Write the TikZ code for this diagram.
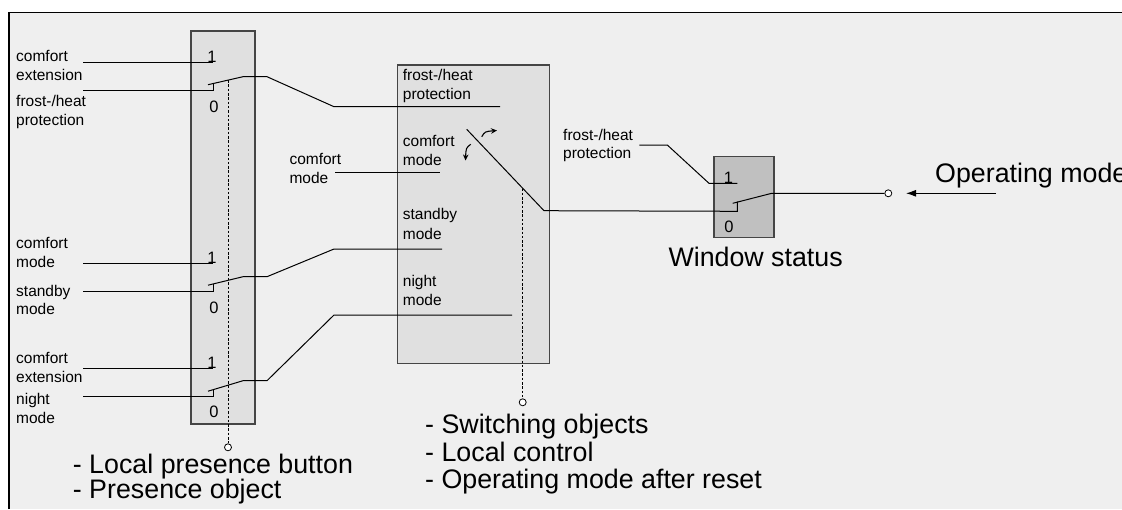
\documentclass[tikz,border=0pt]{standalone}
\usepackage{fontspec}
\setmainfont{Liberation Sans}
\usetikzlibrary{arrows.meta}
\definecolor{bg}{HTML}{EFEFEF}
\definecolor{boxfill}{HTML}{E0E0E0}
\definecolor{darkfill}{HTML}{C0C0C0}
\definecolor{edge}{HTML}{454545}
\begin{document}
\begin{tikzpicture}[x=1pt,y=-1pt,
  sm/.style={inner sep=0,anchor=base west,font=\fontsize{15.5}{18.6}\selectfont},
  big/.style={inner sep=0,anchor=base west,font=\fontsize{26.8}{30}\selectfont},
  dig/.style={inner sep=0,anchor=base,font=\fontsize{16.5}{19}\selectfont},
  wire/.style={line width=1pt,line join=miter},
  panel/.style={draw=edge,line width=1.2pt,fill=boxfill,inner sep=0,outer sep=0},
  term/.style={circle,draw,fill=white,inner sep=0,minimum size=7pt,line width=0.8pt},
  ctrl/.style={line width=0.9pt,dash pattern=on 2.5pt off 1.8pt}]
\useasboundingbox (0,0) rectangle (1122,509);
\fill[white] (0,0) rectangle (1122,509);
\fill[bg] (9,12.7) rectangle (1122,509);
\draw[line width=1.3pt] (9,509) -- (9,12.7) -- (1122,12.7);

% panels
\node[panel,minimum width=64pt,minimum height=393pt] (pbox) at (223,227.5) {};
\node[panel,minimum width=152pt,minimum height=298.3pt] (mbox) at (473.3,214.2) {};
\node[panel,fill=darkfill,minimum width=60pt,minimum height=80.6pt] (wbox) at (744,197) {};

% left labels
\node[sm] (l1a) at (16,61.5) {comfort};
\node[sm] (l1b) at (16,80.5) {extension};
\node[sm] (l2a) at (16,106.5) {frost-/heat};
\node[sm] (l2b) at (16,125) {protection};
\node[sm] (l3a) at (16,248.5) {comfort};
\node[sm] (l3b) at (16,267.5) {mode};
\node[sm] (l4a) at (16,296) {standby};
\node[sm] (l4b) at (16,314.5) {mode};
\node[sm] (l5a) at (16,363.5) {comfort};
\node[sm] (l5b) at (16,382.5) {extension};
\node[sm] (l6a) at (16,404.5) {night};
\node[sm] (l6b) at (16,423.5) {mode};

% digits in left panel
\node[dig] (d1a) at (212,62.3) {1};
\node[dig] (d0a) at (214,112) {0};
\node[dig] (d1b) at (212,263.3) {1};
\node[dig] (d0b) at (214,313) {0};
\node[dig] (d1c) at (212,368.3) {1};
\node[dig] (d0c) at (214,417.5) {0};

% middle panel labels
\node[sm] (m1a) at (402.7,80.5) {frost-/heat};
\node[sm] (m1b) at (402.7,99) {protection};
\node[sm] (m2a) at (402.7,146.7) {comfort};
\node[sm] (m2b) at (402.7,165.7) {mode};
\node[sm] (m3a) at (402.7,219.5) {standby};
\node[sm] (m3b) at (402.7,239) {mode};
\node[sm] (m4a) at (402.7,286.5) {night};
\node[sm] (m4b) at (402.7,305.7) {mode};
\node[sm] (c1a) at (289.3,164.3) {comfort};
\node[sm] (c1b) at (289.3,183.3) {mode};

% right labels
\node[sm] (r1a) at (563,140) {frost-/heat};
\node[sm] (r1b) at (563,158.5) {protection};
\node[dig] (rd1) at (728.5,183.3) {1};
\node[dig] (rd0) at (729,232) {0};

% big labels
\node[big] (b1) at (72.7,473.3) {- Local presence button};
\node[big] (b2) at (72.7,498.3) {- Presence object};
\node[big] (b3) at (425,433.3) {- Switching objects};
\node[big] (b4) at (425,461.5) {- Local control};
\node[big] (b5) at (425,488.3) {- Operating mode after reset};
\node[big] (b6) at (668.3,266) {Window status};
\node[big] (b7) at (935,182.3) {Operating mode};

% terminals
\node[term] (tp) at (228,447.3) {};
\node[term] (tm) at (522.7,402.3) {};
\node[term] (tw) at (888.3,193.3) {};

% coordinates: left switch 1
\coordinate (s1i1) at (83,62.3);   \coordinate (s1p1) at (213.3,62.3);
\coordinate (s1i0) at (83,90.7);   \coordinate (s1c) at (213.3,90.7);
\coordinate (s1t) at (213.3,83.4); \coordinate (s1bs) at (208,84.7);
\coordinate (s1be) at (243,76.7);  \coordinate (s1k) at (267,76.7);
\coordinate (s1d) at (334,106.7);  \coordinate (m1e) at (500,106.7);
% left switch 2
\coordinate (s2i1) at (83,263.3);  \coordinate (s2p1) at (213.3,263.3);
\coordinate (s2i0) at (83,291);    \coordinate (s2c) at (213.3,291);
\coordinate (s2t) at (213.3,284);  \coordinate (s2bs) at (208,285.2);
\coordinate (s2be) at (243,276.7); \coordinate (s2k) at (267,276.7);
\coordinate (s2d) at (334,249);    \coordinate (m3e) at (442,249);
% left switch 3
\coordinate (s3i1) at (83,368.3);  \coordinate (s3p1) at (213.3,368.3);
\coordinate (s3i0) at (83,396.7);  \coordinate (s3c) at (213.3,396.7);
\coordinate (s3t) at (213.3,390);  \coordinate (s3bs) at (208,391.2);
\coordinate (s3be) at (243,380.7); \coordinate (s3k) at (267,380.7);
\coordinate (s3d) at (334,315);    \coordinate (m4e) at (512,315);
% middle
\coordinate (m2s) at (335,172.7);  \coordinate (m2e) at (440,172.7);
\coordinate (mbs) at (466.7,129.3); \coordinate (mbe) at (544,210.7);
\coordinate (wc) at (737.3,211.3); \coordinate (wt) at (737.3,201.7);
\coordinate (wbs) at (732.7,203.3); \coordinate (wbe) at (771.7,193.3);
\coordinate (r1s) at (639.3,145);  \coordinate (r1k) at (667.3,145);
\coordinate (r1d) at (709,183.3);  \coordinate (r1e) at (737.3,183.3);
\coordinate (pdash) at (228,80.1);
\coordinate (mdash) at (522.7,188.5);
\coordinate (opa) at (996,193.3);  \coordinate (opb) at (906,193.3);

% wires
\draw[wire] (s1i1) -- (s1p1);
\draw[wire] (s1i0) -- (s1c) -- (s1t);
\draw[wire] (s1bs) -- (s1be) -- (s1k) -- (s1d) -- (m1e);
\draw[wire] (s2i1) -- (s2p1);
\draw[wire] (s2i0) -- (s2c) -- (s2t);
\draw[wire] (s2bs) -- (s2be) -- (s2k) -- (s2d) -- (m3e);
\draw[wire] (s3i1) -- (s3p1);
\draw[wire] (s3i0) -- (s3c) -- (s3t);
\draw[wire] (s3bs) -- (s3be) -- (s3k) -- (s3d) -- (m4e);
\draw[wire] (m2s) -- (m2e);
\draw[wire] (mbs) -- (mbe) -- (wc) -- (wt);
\draw[wire] (wbs) -- (wbe) -- (tw.west);
\draw[wire] (r1s) -- (r1k) -- (r1d) -- (r1e);

% control lines
\draw[ctrl] (pdash) -- (tp.north);
\draw[ctrl] (mdash) -- (tm.north);

% rotation arrows
\draw[line width=1.1pt,-{Stealth[length=6pt,width=5.5pt]}] (481.7,136.7) .. controls (485,131.5) .. (497,130.5);
\draw[line width=1.1pt,-{Stealth[length=6pt,width=5.5pt]}] (470.7,144.3) .. controls (466,148) .. (465.5,160.5);

% operating mode arrow
\draw[line width=1pt,-{Latex[length=10pt,width=7pt]}] (opa) -- (opb);
\end{tikzpicture}
\end{document}
